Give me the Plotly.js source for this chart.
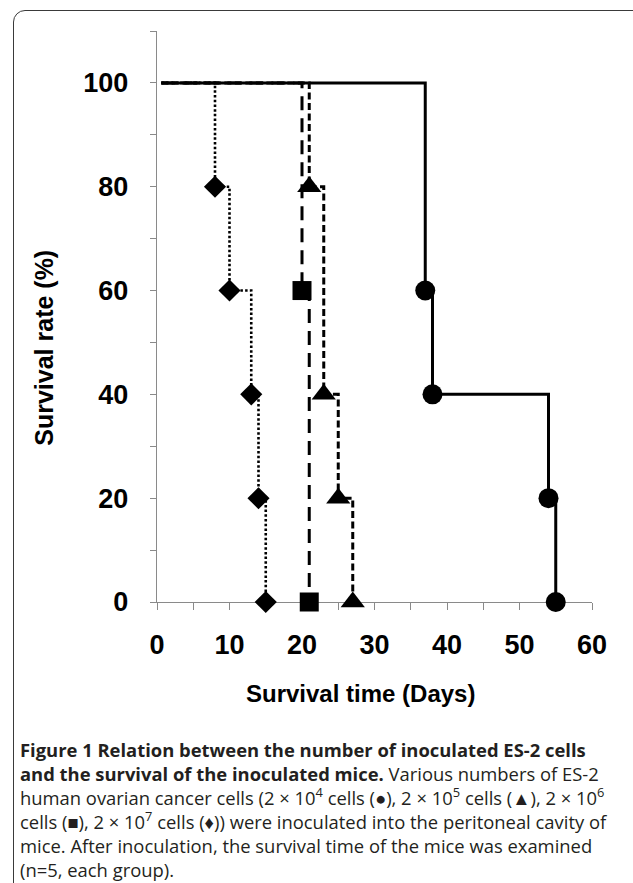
<!DOCTYPE html>
<html>
<head>
<meta charset="utf-8">
<script src="https://cdn.plot.ly/plotly-3.0.1.min.js"></script>
<style>
  html, body { margin: 0; padding: 0; background: #ffffff; overflow: hidden; width: 633px; height: 883px; }
  #frame { position: absolute; left: 13px; top: 10px; width: 700px; height: 940px;
           border: 1.5px solid #3a3a3a; border-radius: 12px; box-sizing: border-box; }
  #chart { position: absolute; left: 0; top: 0; width: 633px; height: 883px; }
</style>
</head>
<body>
<div id="frame"></div>
<div id="chart"></div>
<script>
// ---- data ----
const startDay = 0.6;          // all groups start at 100 %
const startRate = 100;

const daysDiamond = [8, 10, 13, 14, 15];      // 2 x 10^7 cells
const rateDiamond = [80, 60, 40, 20, 0];

const daysSquare = [20, 21];                  // 2 x 10^6 cells
const rateSquare = [60, 0];

const daysTriangle = [21, 23, 25, 27];        // 2 x 10^5 cells
const rateTriangle = [80, 40, 20, 0];

const daysCircle = [37, 38, 54, 55];          // 2 x 10^4 cells
const rateCircle = [60, 40, 20, 0];

const xTickVals = [0, 10, 20, 30, 40, 50, 60];
const yTickVals = [0, 20, 40, 60, 80, 100];

const xTitle = 'Survival time (Days)';
const yTitle = 'Survival rate (%)';

const captionLines = [
  "<b>Figure 1 Relation between the number of inoculated ES-2 cells</b>",
  "<b>and the survival of the inoculated mice.</b> Various numbers of ES-2",
  "human ovarian cancer cells (2 × 10<sup>4</sup> cells (●), 2 × 10<sup>5</sup> cells (▲), 2 × 10<sup>6</sup>",
  "cells (■), 2 × 10<sup>7</sup> cells (♦)) were inoculated into the peritoneal cavity of",
  "mice. After inoculation, the survival time of the mice was examined",
  "(n=5, each group)."
];

// ---- geometry ----
const W = 633, H = 883;
const M = { l: 157.3, r: 41.3, t: 31, b: 281.3 };
const pw = W - M.l - M.r, ph = H - M.t - M.b;
const px2x = p => (p - M.l) / pw;
const px2y = p => (H - M.b - p) / ph;

function stepLine(days, rates, dash, width) {
  return {
    type: 'scatter', mode: 'lines',
    x: [startDay].concat(days), y: [startRate].concat(rates),
    line: { shape: 'hv', color: '#000', width: width, dash: dash },
    cliponaxis: false, hoverinfo: 'skip'
  };
}
function markers(days, rates, symbol, size) {
  return {
    type: 'scatter', mode: 'markers', x: days, y: rates,
    marker: { symbol: symbol, size: size, color: '#000', line: { width: 0 } },
    cliponaxis: false
  };
}

const traces = [
  stepLine(daysDiamond, rateDiamond, '2.5px,2.2px', 2.6),
  stepLine(daysSquare, rateSquare, '14px,8px', 3),
  stepLine(daysTriangle, rateTriangle, '7px,3.5px', 3),
  stepLine(daysCircle, rateCircle, 'solid', 3),
  markers(daysDiamond, rateDiamond, 'diamond', 17),
  markers(daysSquare, rateSquare, 'square', 19),
  markers(daysTriangle, rateTriangle, 'triangle-up', 21),
  markers(daysCircle, rateCircle, 'circle', 20)
];

const axisColor = '#8a8a8a';
const tickFont = { family: 'Liberation Sans, Arial, sans-serif', size: 27, weight: 700, color: '#000' };
const titleFont = { family: 'Liberation Sans, Arial, sans-serif', size: 25, weight: 700, color: '#000' };

const annotations = [{
  xref: 'paper', yref: 'paper', x: px2x(19), y: px2y(736),
  xanchor: 'left', yanchor: 'top', showarrow: false, align: 'left', borderpad: 0,
  text: captionLines.join('<br>'),
  font: { family: 'Open Sans, Noto Sans, sans-serif', size: 18.4, color: '#231f20' }
}];
annotations.push({
  xref: 'paper', yref: 'paper', x: px2x(361), y: px2y(693),
  xanchor: 'center', yanchor: 'middle', showarrow: false,
  text: xTitle, font: { family: 'Liberation Sans, Arial, sans-serif', size: 24, weight: 700, color: '#000' }
});
annotations.push({
  xref: 'paper', yref: 'paper', x: px2x(45), y: px2y(348),
  xanchor: 'center', yanchor: 'middle', showarrow: false, textangle: -90,
  text: yTitle, font: titleFont
});

const layout = {
  width: W, height: H,
  margin: { l: M.l, r: M.r, t: M.t, b: M.b, pad: 0 },
  paper_bgcolor: 'rgba(0,0,0,0)', plot_bgcolor: 'rgba(0,0,0,0)',
  showlegend: false,
  xaxis: {
    range: [0, 60], tickvals: xTickVals, ticks: 'outside', ticklen: 7, tickwidth: 1,
    tickcolor: axisColor, showline: true, linecolor: axisColor, linewidth: 1.2,
    showgrid: false, zeroline: false, tickfont: tickFont, layer: 'below traces',
    ticklabelstandoff: 11,
    minor: { dtick: 5, tick0: 0, ticks: 'outside', ticklen: 7, tickwidth: 1, tickcolor: axisColor, showgrid: false },
    title: { text: '' },
    automargin: false, fixedrange: true
  },
  yaxis: {
    range: [0, 110], tickvals: yTickVals, ticks: 'outside', ticklen: 6, tickwidth: 1,
    tickcolor: axisColor, showline: true, linecolor: axisColor, linewidth: 1.2,
    showgrid: false, zeroline: false, tickfont: tickFont, layer: 'below traces',
    ticklabelstandoff: 16,
    minor: { dtick: 10, tick0: 0, ticks: 'outside', ticklen: 6, tickwidth: 1, tickcolor: axisColor, showgrid: false },
    title: { text: '' },
    automargin: false, fixedrange: true
  },
  annotations: annotations
};

Plotly.newPlot('chart', traces, layout, { displayModeBar: false, staticPlot: true });
</script>
</body>
</html>
